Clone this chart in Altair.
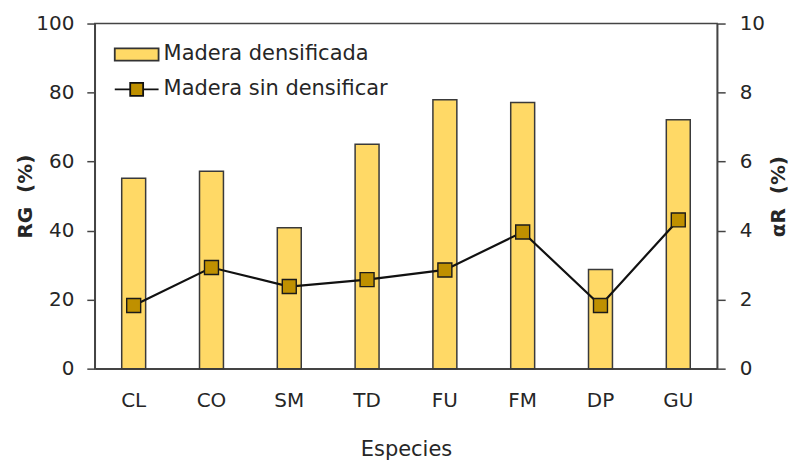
import altair as alt
import pandas as pd

especies = ["CL", "CO", "SM", "TD", "FU", "FM", "DP", "GU"]
rg_densificada = [55.2, 57.2, 40.8, 65.0, 77.9, 77.1, 28.7, 72.1]
ar_sin_densificar = [1.83, 2.93, 2.38, 2.58, 2.86, 3.96, 1.83, 4.31]
series = ["Madera densificada", "Madera sin densificar"]

df_bar = pd.DataFrame({"Especie": especies, "RG": rg_densificada, "serie": series[0]})
df_line = pd.DataFrame({"Especie": especies, "aR": ar_sin_densificar, "serie": series[1]})
df_leg = pd.concat([df_bar[["Especie", "serie"]], df_line[["Especie", "serie"]]])

FONT = "DejaVu Sans"
TXT = "#262626"

rect_path = "M-1.22,-0.34L1.22,-0.34L1.22,0.34L-1.22,0.34Z"
line_sq_path = ("M-1.22,0L-0.36,0M-0.36,-0.36L0.36,-0.36L0.36,0.36L-0.36,0.36Z"
                "M0.36,0L1.22,0")

leg = alt.Legend(title=None, orient="none", legendX=23, legendY=12,
                 symbolOpacity=1, symbolSize=1296,
                 symbolStrokeWidth=1.8,
                 labelOffset=8, rowPadding=6, padding=0, labelLimit=0,
                 labelFontSize=21, labelFont=FONT, labelColor=TXT)

x_enc = alt.X(
    "Especie:N",
    sort=especies,
    scale=alt.Scale(paddingInner=0.69, paddingOuter=0.345),
    axis=alt.Axis(title="Especies", labelAngle=0, ticks=False, labelPadding=22,
                  titlePadding=28, domainColor="#444", domainWidth=1.5),
)

fill_scale = alt.Scale(domain=series, range=["#FFD966", "#BF9000"])
stroke_scale = alt.Scale(domain=series, range=["#333333", "#111111"])
shape_scale = alt.Scale(domain=series, range=[rect_path, line_sq_path])

bars = alt.Chart(df_bar).mark_bar(
    size=24, stroke="#3a3a3a", strokeWidth=1.5, fill="#FFD966"
).encode(
    x=x_enc,
    y=alt.Y("RG:Q", scale=alt.Scale(domain=[0, 100]),
            axis=alt.Axis(title="RG\u00a0\u00a0(%)", values=[0, 20, 40, 60, 80, 100],
                          orient="left", grid=False, tickSize=8, labelPadding=13,
                          titlePadding=0, titleFontWeight="bold", titleFontSize=20,
                          domainColor="#444", domainWidth=1.5,
                          tickColor="#444", tickWidth=1.5)),
)

# layer placed outside the clipped view: it only carries the legend
legend_carrier = alt.Chart(df_leg).mark_point(
    filled=True, strokeWidth=1.8, clip=True
).encode(
    x=alt.X("Especie:N", sort=especies),
    y=alt.value(-2000),
    fill=alt.Fill("serie:N", scale=fill_scale, legend=leg),
    stroke=alt.Stroke("serie:N", scale=stroke_scale, legend=leg),
    shape=alt.Shape("serie:N", scale=shape_scale, legend=leg),
)

y_right = alt.Y("aR:Q", scale=alt.Scale(domain=[0, 10]),
                axis=alt.Axis(title="αR\u00a0\u00a0(%)", values=[0, 2, 4, 6, 8, 10], orient="right",
                              grid=False, tickSize=8, labelPadding=14, titlePadding=24,
                              titleAngle=-90, titleFontWeight="bold", titleFontSize=20,
                              domainColor="#444", domainWidth=1.5,
                              tickColor="#444", tickWidth=1.5))

line = alt.Chart(df_line).mark_line(color="#111111", strokeWidth=2.2).encode(
    x=alt.X("Especie:N", sort=especies),
    y=y_right,
)
points = alt.Chart(df_line).mark_point(
    shape="square", filled=True, size=196, fill="#BF9000", stroke="#1a1a1a",
    strokeWidth=1.4, opacity=1
).encode(
    x=alt.X("Especie:N", sort=especies),
    y=y_right,
)

right = alt.layer(line, points)

chart = alt.layer(bars, legend_carrier, right).resolve_scale(
    y="independent"
).properties(
    width=624, height=346, padding={"left": 7, "top": 5, "right": 0, "bottom": 0}
).configure_view(
    stroke="#444", strokeWidth=1.5
).configure_axis(
    labelFont=FONT, titleFont=FONT, labelFontSize=20, titleFontSize=21,
    labelColor=TXT, titleColor=TXT, titleFontWeight="normal"
)

chart.save("out.html", embed_options={"renderer": "svg", "actions": False})
